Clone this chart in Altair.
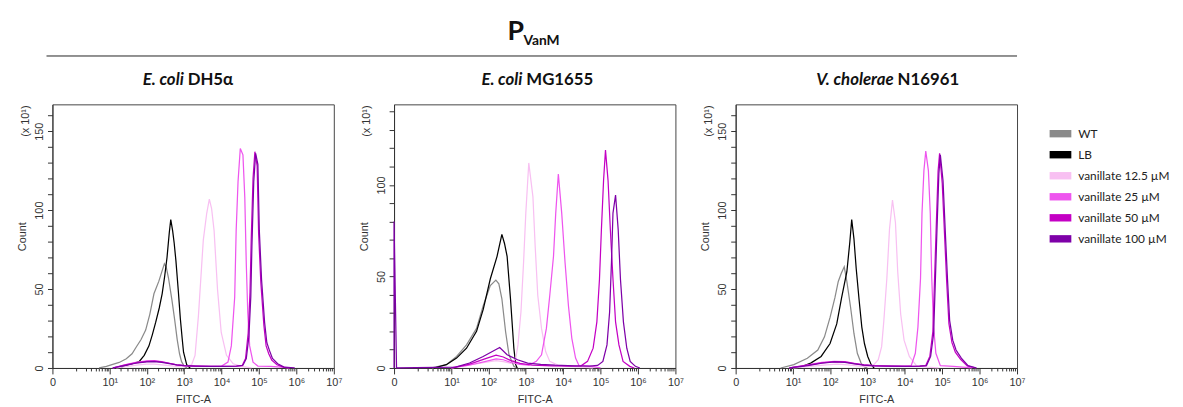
import altair as alt
import pandas as pd

SERIES = ["WT", "LB", "vanillate 12.5 µM", "vanillate 25 µM", "vanillate 50 µM", "vanillate 100 µM"]
COLORS = ["#8a8a8a", "#000000", "#f8c0f2", "#ee55ee", "#c400c4", "#7e00a8"]

PANEL_ITALIC = ["E. coli", "E. coli", "V. cholerae"]
PANEL_REST = ["DH5α", "MG1655", "N16961"]

X_MAJOR = [0, 10, 100, 1000, 10000, 100000, 1000000, 10000000]
X_MAJOR_LABELS = ["0", "10¹", "10²", "10³", "10⁴", "10⁵", "10⁶", "10⁷"]
X_MINOR = [m * 10 ** e for e in range(0, 7) for m in range(1 if e == 0 else 2, 10)]

# ---- E. coli DH5a ----
DH5A_WT_FITC = [5, 8, 12, 18, 28, 40, 51, 70, 93, 120, 155, 210, 260, 295, 330, 380, 470, 560, 650, 750, 850, 1000, 1200]
DH5A_WT_COUNT = [0, 1, 2.3, 3.5, 5.8, 9, 13, 18, 24, 34, 47, 55, 62, 66, 64, 57, 43, 30, 18, 9, 4, 1, 0]
DH5A_LB_FITC = [18, 30, 45, 62, 85, 114, 140, 173, 215, 257, 300, 347, 400, 437, 490, 540, 600, 700, 790, 880, 960, 1170, 1440]
DH5A_LB_COUNT = [0, 2, 3, 4, 8, 14, 21, 29, 38, 47, 58, 70, 86, 94, 87, 79, 68, 48, 31, 19, 10, 2, 0]
DH5A_V12_FITC = [15, 30, 60, 100, 160, 250, 400, 650, 1000, 1580, 1950, 2400, 3240, 4000, 4700, 5400, 6300, 7760, 9770, 13500, 20400, 33900, 63000]
DH5A_V12_COUNT = [0, 1, 2, 2.5, 2.5, 2, 1.5, 1, 1, 2, 8, 33, 81, 98, 107, 101, 87, 50, 22.5, 8, 2.7, 1, 0]
DH5A_V25_FITC = [12, 25, 50, 100, 160, 250, 400, 630, 1000, 2000, 5000, 10000, 14800, 18200, 22400, 24500, 27500, 31600, 37200, 41700, 45700, 50100, 56200, 69200, 93300, 200000, 400000, 630000]
DH5A_V25_COUNT = [0, 2, 3.5, 4.5, 4.7, 4, 3, 2, 1.5, 1.2, 1, 1.2, 3.7, 14, 45, 87, 118, 139, 135, 108, 66, 35, 14, 3.7, 1.2, 1, 0.5, 0]
DH5A_V50_FITC = [12, 25, 50, 100, 160, 250, 400, 630, 1000, 2000, 5000, 12000, 25000, 35500, 43700, 51300, 57500, 61700, 69200, 77600, 89100, 97700, 112000, 135000, 155000, 182000, 219000, 302000, 447000, 676000]
DH5A_V50_COUNT = [0, 1.8, 3.2, 4.2, 4.4, 3.8, 3, 2, 1.5, 1.2, 1, 1, 1.2, 1.5, 6, 22, 48, 80, 120, 137, 128, 85, 54, 27, 14, 9, 5, 2, 0.5, 0]
DH5A_V100_FITC = [12, 25, 50, 100, 160, 250, 400, 630, 1000, 2000, 5000, 12000, 25000, 37200, 45700, 53700, 60300, 64600, 72400, 81300, 93300, 102000, 117000, 141000, 162000, 191000, 229000, 316000, 468000, 708000, 900000]
DH5A_V100_COUNT = [0, 1.5, 3, 3.8, 4, 3.5, 2.8, 2, 1.5, 1.2, 1, 1, 1.2, 1.7, 6, 20, 45, 77, 118, 136, 129, 87, 56, 29, 16, 11, 6, 2.7, 0.6, 0.3, 0]

# ---- E. coli MG1655 ----
MG_WT_FITC = [2.8, 7.2, 13.8, 25.7, 47.9, 72.4, 112, 158, 190, 229, 288, 355, 479, 589]
MG_WT_COUNT = [0, 1.8, 6.3, 12.6, 21.6, 34, 45, 48, 46, 37.8, 19.8, 7.2, 0.9, 0]
MG_LB_FITC = [3.2, 7.2, 13.8, 25.7, 47.9, 72.4, 112, 170, 229, 269, 316, 389, 479, 537, 589]
MG_LB_COUNT = [0, 1.8, 5.4, 10.8, 20, 32, 48.6, 61, 73, 68, 61, 37.8, 10.8, 1.8, 0]
MG_V12_FITC = [10, 30, 80, 160, 250, 400, 537, 617, 741, 871, 1000, 1200, 1550, 1780, 2090, 2630, 3390, 4370, 7410, 20000, 63000]
MG_V12_COUNT = [0, 1.5, 3, 4, 3.5, 2.5, 5, 12.6, 30.6, 57.6, 84.6, 112, 93.5, 66.5, 39.6, 21.6, 9, 3.6, 1.4, 0.8, 0]
MG_V25_FITC = [10, 30, 80, 160, 250, 400, 700, 1200, 1910, 2630, 3550, 4370, 5500, 6310, 7410, 9120, 11200, 13800, 17000, 21400, 26300, 50000, 100000]
MG_V25_COUNT = [0, 1.5, 3.5, 5, 4.5, 3, 2, 1.5, 3.6, 7.2, 21.6, 39.6, 61, 84.6, 106, 84.6, 57.6, 34, 16.2, 5.4, 1.4, 1, 0]
MG_V50_FITC = [10, 30, 80, 160, 250, 400, 700, 1500, 5000, 15000, 30000, 44700, 63100, 79400, 93300, 105000, 120000, 135000, 158000, 182000, 214000, 251000, 309000, 398000, 603000, 794000]
MG_V50_COUNT = [0, 2, 5, 7, 6, 4, 2.5, 1.5, 1.2, 1, 1.2, 3.6, 10.8, 25.2, 48.6, 75.6, 102.5, 119, 102.5, 75.6, 48.6, 25.2, 12.6, 3.6, 0.9, 0]
MG_V100_FITC = [0, 0, 0.05, 13, 31, 72, 200, 316, 600, 1120, 2500, 6000, 20000, 50000, 83200, 115000, 148000, 174000, 195000, 214000, 251000, 295000, 339000, 407000, 501000, 617000, 851000, 1120000]
MG_V100_COUNT = [0, 80, 0, 0.5, 2.7, 6.3, 11.2, 7.2, 4.5, 2.7, 2, 1.5, 1.2, 1, 1.4, 3.6, 12.6, 30.6, 57.6, 84.6, 94.4, 75.6, 48.6, 25.2, 10.8, 3.6, 0.9, 0]

# ---- V. cholerae N16961 ----
VC_WT_FITC = [4.5, 10.5, 24.5, 46.8, 70.8, 100, 135, 166, 200, 240, 282, 355, 437, 537, 676, 832, 1000]
VC_WT_COUNT = [0, 2.1, 6.2, 11.4, 19.7, 32, 44.5, 54.8, 60, 64.1, 54.8, 38.3, 21.7, 9.3, 3.1, 0.6, 0]
VC_LB_FITC = [7.9, 15.8, 30.2, 57.5, 100, 151, 204, 282, 339, 380, 437, 501, 603, 708, 832, 1020, 1260, 1510]
VC_LB_COUNT = [0, 0.6, 3.1, 7.3, 15.5, 27.9, 44.5, 61, 80, 94, 81.6, 63, 42.4, 25.9, 15.5, 7.3, 2.1, 0]
VC_V12_FITC = [10, 30, 80, 160, 300, 600, 1000, 1410, 1950, 2400, 2750, 3310, 3890, 4680, 5620, 6460, 7760, 9550, 13200, 20400, 39800, 79400]
VC_V12_COUNT = [0, 1, 2, 2.5, 2, 1.2, 1, 1.5, 5.2, 13.5, 30, 56.8, 87.8, 106.4, 92, 61, 34, 17.6, 7.3, 1.5, 0.5, 0]
VC_V25_FITC = [8, 25, 60, 130, 250, 450, 800, 1500, 4000, 10000, 14800, 19100, 22400, 26300, 28800, 32400, 36300, 42700, 47900, 52500, 58900, 67600, 89100, 200000, 631000]
VC_V25_COUNT = [0, 2, 3.5, 4.2, 4, 3, 2, 1.5, 1.2, 1.2, 1.5, 9.3, 25.9, 56.8, 98, 125, 137.4, 125, 98, 56.8, 25.9, 9.3, 1.5, 1, 0]
VC_V50_FITC = [8, 25, 60, 130, 250, 450, 800, 1500, 4000, 12000, 25000, 36300, 46800, 56200, 61700, 69200, 77600, 85100, 100000, 115000, 132000, 151000, 182000, 224000, 309000, 468000, 794000]
VC_V50_COUNT = [0, 1.8, 3.2, 4, 3.8, 2.8, 2, 1.5, 1.2, 1, 1.2, 1.5, 7.5, 23, 53, 90, 125, 136, 117, 85, 54, 28, 16, 10, 5.5, 1.3, 0]
VC_V100_FITC = [8, 25, 60, 130, 250, 450, 800, 1500, 4000, 12000, 25000, 38000, 49000, 58900, 64600, 72400, 81300, 89100, 105000, 120000, 138000, 158000, 191000, 234000, 324000, 490000, 832000]
VC_V100_COUNT = [0, 1.5, 3, 3.8, 3.5, 2.6, 1.8, 1.4, 1.2, 1, 1.2, 1.5, 7.3, 21.7, 50.6, 87.8, 123, 135, 118.8, 87.8, 56.8, 30, 17.6, 11.4, 6.2, 1.5, 0]

PANEL_DATA = [
    [(DH5A_WT_FITC, DH5A_WT_COUNT), (DH5A_LB_FITC, DH5A_LB_COUNT), (DH5A_V12_FITC, DH5A_V12_COUNT),
     (DH5A_V25_FITC, DH5A_V25_COUNT), (DH5A_V50_FITC, DH5A_V50_COUNT), (DH5A_V100_FITC, DH5A_V100_COUNT)],
    [(MG_WT_FITC, MG_WT_COUNT), (MG_LB_FITC, MG_LB_COUNT), (MG_V12_FITC, MG_V12_COUNT),
     (MG_V25_FITC, MG_V25_COUNT), (MG_V50_FITC, MG_V50_COUNT), (MG_V100_FITC, MG_V100_COUNT)],
    [(VC_WT_FITC, VC_WT_COUNT), (VC_LB_FITC, VC_LB_COUNT), (VC_V12_FITC, VC_V12_COUNT),
     (VC_V25_FITC, VC_V25_COUNT), (VC_V50_FITC, VC_V50_COUNT), (VC_V100_FITC, VC_V100_COUNT)],
]
Y_MAX = [167, 144, 167]
Y_TOP_TICK = [160, 140, 160]

W, H = 285, 267
AXIS_FONT = "Liberation Sans"
TITLE_FONT = "Lato"
INK = "#333333"

label_expr = "".join(f"datum.value === {v} ? '{lab}' : " for v, lab in zip(X_MAJOR, X_MAJOR_LABELS)) + "''"
major_test = "indexof([" + ",".join(str(v) for v in X_MAJOR) + "], datum.value) >= 0"

one = pd.DataFrame({"v": [0]})
no_rows = pd.DataFrame({"series": pd.Series([], dtype=str)})
color_scale = alt.Scale(domain=SERIES, range=COLORS)
LEGEND_SHAPE = "M-1,-0.34H1V0.34H-1Z"
legend = alt.Legend(
    title=None, orient="none", legendX=1010, legendY=18.7, symbolType=LEGEND_SHAPE,
    symbolSize=484, symbolStrokeWidth=0, symbolOpacity=1, labelFont=TITLE_FONT,
    labelFontSize=12, labelColor="#222", rowPadding=4.3, labelOffset=7, padding=0,
)


def text_layer(txt, x, y, **kw):
    return alt.Chart(one).mark_text(text=txt, **kw).encode(x=alt.value(x), y=alt.value(y))


def make_panel(i, split_x):
    rows = []
    for s, (xs, ys) in zip(SERIES, PANEL_DATA[i]):
        for k, (xv, yv) in enumerate(zip(xs, ys)):
            rows.append({"series": s, "order": k, "fitc": xv, "count": yv})
    df = pd.DataFrame(rows)

    x_axis = alt.Axis(
        values=sorted(set(X_MAJOR + X_MINOR)), labelExpr=label_expr, labelOverlap=False,
        labelFlush=False, tickSize={"condition": {"test": major_test, "value": 6}, "value": 3},
        title="FITC-A", titleFont=AXIS_FONT, titleFontWeight="normal", titleFontSize=11,
        titleColor=INK, titlePadding=6, labelFont=AXIS_FONT, labelFontSize=11, labelColor=INK,
        labelPadding=3, domainColor=INK, tickColor=INK, grid=False, labelAngle=0,
    )
    y_axis = alt.Axis(
        values=list(range(0, Y_TOP_TICK[i] + 1, 10)),
        labelExpr="datum.value % 50 === 0 ? datum.label : ''", labelOverlap=False,
        labelAngle=270, labelAlign="center", labelBaseline="bottom", labelFlush=False,
        tickSize=5, labelPadding=3, title="Count", titleFont=AXIS_FONT, titleFontWeight="normal",
        titleFontSize=11, titleColor=INK, titlePadding=6, labelFont=AXIS_FONT, labelFontSize=11,
        labelColor=INK, domainColor=INK, tickColor=INK, grid=False,
    )
    # empty layer that only carries the filled legend keys (listed first so its symbols are used)
    legend_keys = alt.Chart(no_rows).mark_point(filled=True, opacity=1, shape=LEGEND_SHAPE, size=484).encode(
        x=alt.value(0), y=alt.value(0),
        color=alt.Color("series:N", scale=color_scale, legend=legend),
    )
    lines = alt.Chart(df).mark_line(strokeWidth=1.25).encode(
        x=alt.X("fitc:Q", scale=alt.Scale(type="symlog", constant=0.3, domain=[0, 10000000], nice=False), axis=x_axis),
        y=alt.Y("count:Q", scale=alt.Scale(domain=[0, Y_MAX[i]], nice=False), axis=y_axis),
        color=alt.Color("series:N", scale=color_scale, legend=legend),
        order=alt.Order("order:Q"),
    )
    layers = [
        legend_keys,
        lines,
        text_layer(PANEL_ITALIC[i], split_x, -24.5, font=TITLE_FONT, fontSize=17, fontWeight="bold",
                   fontStyle="italic", align="right", color="#111"),
        text_layer(PANEL_REST[i], split_x + 4, -24.5, font=TITLE_FONT, fontSize=17, fontWeight="bold",
                   align="left", color="#111"),
        text_layer("(x 10¹)", -27, 17, font=AXIS_FONT, fontSize=11, angle=270, align="center",
                   baseline="middle", color=INK),
    ]
    if i == 0:
        layers += [
            alt.Chart(one).mark_rule(color="#222", strokeWidth=1).encode(
                x=alt.value(-6), x2=alt.value(977), y=alt.value(-49)),
            text_layer("P", 461, -73, font=TITLE_FONT, fontSize=27, fontWeight="bold", align="left", color="#111"),
            text_layer("VanM", 477, -64, font=TITLE_FONT, fontSize=14, fontWeight="bold", align="left", color="#111"),
        ]
    return alt.layer(*layers).properties(width=W, height=H)


p1 = make_panel(0, 133)
p2 = make_panel(1, 130)
p3 = make_panel(2, 160)

chart = alt.hconcat(p1, p2, p3, spacing=61, bounds="flush").properties(
    padding={"left": 8, "top": 7, "right": 5, "bottom": 5}
).configure_view(stroke="#444", strokeWidth=1)

chart.save("out.html", embed_options={"renderer": "svg", "actions": False})
